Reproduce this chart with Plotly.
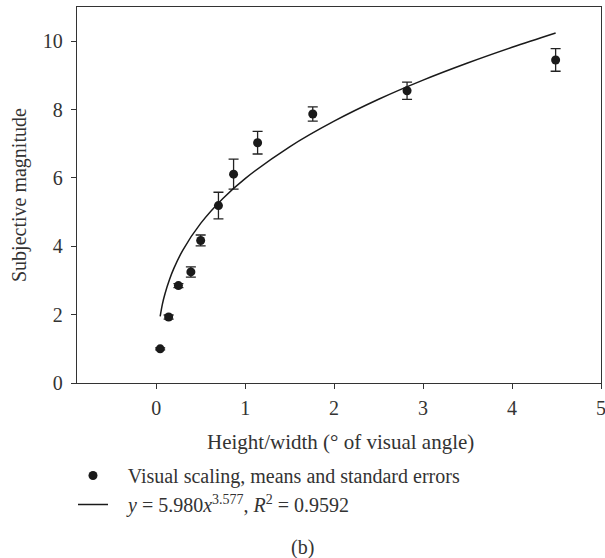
import plotly.graph_objects as go

# Data
size_deg = [0.045, 0.14, 0.25, 0.39, 0.50, 0.70, 0.87, 1.14, 1.76, 2.82, 4.49]
magnitude = [1.00, 1.93, 2.85, 3.25, 4.17, 5.19, 6.11, 7.03, 7.87, 8.55, 9.45]
std_err = [0.03, 0.06, 0.06, 0.15, 0.16, 0.39, 0.44, 0.33, 0.21, 0.25, 0.33]

# Fitted power curve, as drawn in the picture
fit_x = [0.045, 0.07, 0.1, 0.15, 0.2, 0.3, 0.5, 0.75, 1.0, 1.5, 2.0, 2.5, 3.0, 3.5, 4.0, 4.49]
fit_y = [1.95, 2.31, 2.62, 3.03, 3.36, 3.89, 4.67, 5.40, 5.98, 6.91, 7.66, 8.30, 8.86, 9.36, 9.82, 10.24]

x_ticks = [0, 1, 2, 3, 4, 5]
y_ticks = [0, 2, 4, 6, 8, 10]

FONT = "Liberation Serif"
TXT = "#333333"
W, H = 605, 558
ML, MR, MT, MB = 77, 4, 7, 175
PW, PH = W - ML - MR, H - MT - MB


def px_x(px):
    return (px - ML) / PW


def px_y(py):
    return (H - MB - py) / PH


fig = go.Figure()
fig.add_trace(go.Scatter(
    x=size_deg, y=magnitude, mode="markers",
    name="   Visual scaling, means and standard errors",
    marker=dict(color="#1a1a1a", size=9),
    error_y=dict(type="data", array=std_err, visible=True,
                 color="#222222", thickness=1.3, width=5),
))
fig.add_trace(go.Scatter(
    x=fit_x, y=fit_y, mode="lines", line_shape="spline",
    name="   <i>y</i> = 5.980<i>x</i><sup>3.577</sup>, <i>R</i><sup>2</sup> = 0.9592",
    line=dict(color="#1a1a1a", width=1.5),
))

axis_common = dict(
    showline=True, linecolor="#333333", linewidth=1.3, mirror=True,
    ticks="outside", ticklen=5, tickwidth=1.3, tickcolor="#333333",
    showgrid=False, zeroline=False, automargin=False,
    ticklabeloverflow="allow",
    tickfont=dict(family=FONT, size=20, color=TXT),
)

fig.update_layout(
    width=W, height=H,
    margin=dict(l=ML, r=MR, t=MT, b=MB, autoexpand=False),
    paper_bgcolor="white", plot_bgcolor="white",
    font=dict(family=FONT, size=20, color=TXT),
    xaxis=dict(range=[-0.89, 5], tickvals=x_ticks, ticklabelstandoff=2,
               **axis_common),
    yaxis=dict(range=[0, 11], tickvals=y_ticks, ticklabelstandoff=4,
               **axis_common),
    showlegend=True,
    legend=dict(xref="container", yref="container",
                x=73 / W, y=1 - 456 / H, xanchor="left", yanchor="top",
                bgcolor="rgba(0,0,0,0)", borderwidth=0,
                font=dict(family=FONT, size=20, color=TXT),
                itemwidth=30, tracegroupgap=0),
    annotations=[
        dict(text="Height/width (° of visual angle)", xref="paper", yref="paper",
             x=px_x(340), y=px_y(442), xanchor="center", yanchor="middle",
             showarrow=False, font=dict(family=FONT, size=21, color=TXT)),
        dict(text="Subjective magnitude", xref="paper", yref="paper",
             x=px_x(19), y=px_y(195), xanchor="center", yanchor="middle",
             textangle=-90, showarrow=False,
             font=dict(family=FONT, size=20, color=TXT)),
        dict(text="(b)", xref="paper", yref="paper",
             x=px_x(302), y=px_y(547), xanchor="center", yanchor="middle",
             showarrow=False, font=dict(family=FONT, size=20, color=TXT)),
    ],
)

fig.write_html("out.html")
